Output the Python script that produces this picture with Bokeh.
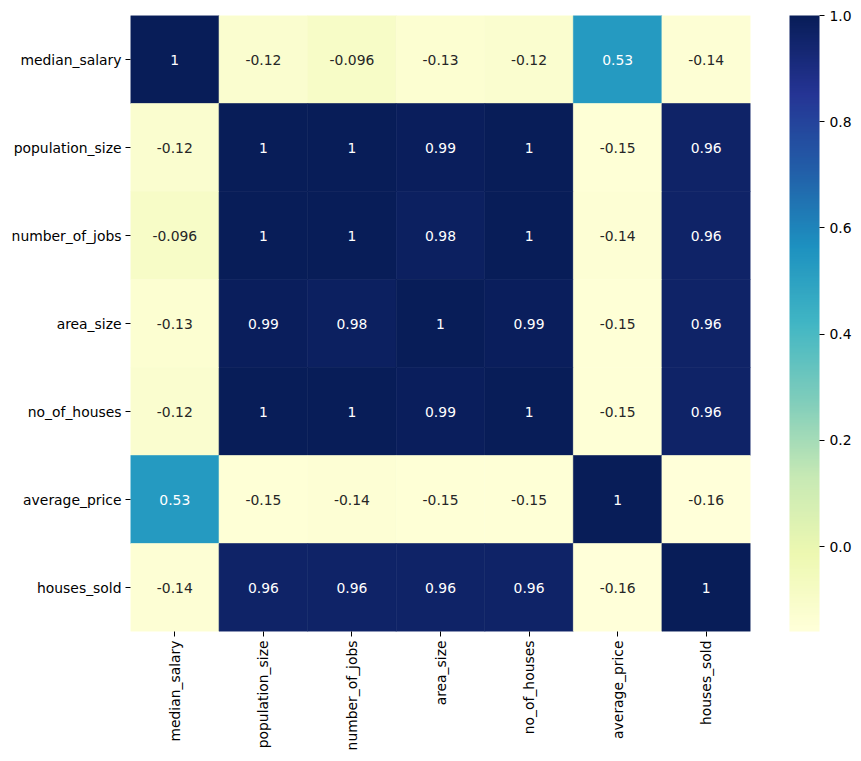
import numpy as np
from bokeh.plotting import figure
from bokeh.models import (ColumnDataSource, LinearColorMapper, ColorBar, FixedTicker,
                          PrintfTickFormatter, FactorRange)
from bokeh.transform import transform
from bokeh.core.properties import value
from bokeh.embed import file_html
from bokeh.resources import INLINE

variables = ["median_salary", "population_size", "number_of_jobs", "area_size",
             "no_of_houses", "average_price", "houses_sold"]

median_salary = [1.0, -0.12, -0.096, -0.13, -0.12, 0.53, -0.14]
population_size = [-0.12, 1.0, 1.0, 0.99, 1.0, -0.15, 0.96]
number_of_jobs = [-0.096, 1.0, 1.0, 0.98, 1.0, -0.14, 0.96]
area_size = [-0.13, 0.99, 0.98, 1.0, 0.99, -0.15, 0.96]
no_of_houses = [-0.12, 1.0, 1.0, 0.99, 1.0, -0.15, 0.96]
average_price = [0.53, -0.15, -0.14, -0.15, -0.15, 1.0, -0.16]
houses_sold = [-0.14, 0.96, 0.96, 0.96, 0.96, -0.16, 1.0]

rows = [median_salary, population_size, number_of_jobs, area_size,
        no_of_houses, average_price, houses_sold]

colorbar_ticks = [0.0, 0.2, 0.4, 0.6, 0.8, 1.0]

# YlGnBu (light -> dark), interpolated to 256 colours like matplotlib
base = ["#ffffd9", "#edf8b1", "#c7e9b4", "#7fcdbb", "#41b6c4",
        "#1d91c0", "#225ea8", "#253494", "#081d58"]
base_rgb = np.array([[int(c[i:i + 2], 16) for i in (1, 3, 5)] for c in base], dtype=float)
pos = np.linspace(0, 1, len(base))
t = np.linspace(0, 1, 256)
pal_rgb = np.stack([np.interp(t, pos, base_rgb[:, k]) for k in range(3)], axis=1)
palette = ["#%02x%02x%02x" % tuple(int(round(v)) for v in c) for c in pal_rgb]

vmin = min(min(r) for r in rows)
vmax = max(max(r) for r in rows)


def lum(rgb):
    rgb = np.asarray(rgb) / 255.0
    rgb = np.where(rgb <= 0.03928, rgb / 12.92, ((rgb + 0.055) / 1.055) ** 2.4)
    return 0.2126 * rgb[0] + 0.7152 * rgb[1] + 0.0722 * rgb[2]


xs, ys, vals, labels, tcolors = [], [], [], [], []
for i, rname in enumerate(variables):
    for j, cname in enumerate(variables):
        v = rows[i][j]
        xs.append(cname)
        ys.append(rname)
        vals.append(v)
        labels.append(format(v, ".2g"))
        idx = int(np.clip((v - vmin) / (vmax - vmin) * 255, 0, 255))
        tcolors.append("#262626" if lum(pal_rgb[idx]) > 0.408 else "#ffffff")

src = ColumnDataSource(dict(x=xs, y=ys, v=vals, label=labels, tc=tcolors))
mapper = LinearColorMapper(palette=palette, low=vmin, high=vmax)

FONT = "DejaVu Sans"
FS = "13.9px"

p = figure(x_range=FactorRange(*variables), y_range=FactorRange(*variables[::-1]),
           frame_width=620, frame_height=616, output_backend="svg",
           toolbar_location=None, min_border_left=130, min_border_top=15,
           min_border_bottom=110, min_border_right=5)
p.x_range.range_padding = 0
p.y_range.range_padding = 0

p.rect(x="x", y="y", width=1, height=1, source=src,
       fill_color=transform("v", mapper), line_color=transform("v", mapper),
       line_width=0.6)
p.text(x="x", y="y", text="label", source=src, text_color="tc",
       text_align="center", text_baseline="middle",
       text_font=value(FONT), text_font_size=FS)

p.outline_line_color = None
p.grid.grid_line_color = None
for ax in (p.xaxis[0], p.yaxis[0]):
    ax.axis_line_color = None
    ax.major_tick_in = 0
    ax.major_tick_out = 5
    ax.major_tick_line_color = "#000000"
    ax.major_label_text_font = FONT
    ax.major_label_text_font_size = FS
    ax.major_label_text_color = "#000000"
    ax.major_label_standoff = 4
p.xaxis.major_label_orientation = np.pi / 2

cb = ColorBar(color_mapper=mapper, width=30, height=616, padding=0,
              margin=0, location=(39, 0),
              ticker=FixedTicker(ticks=colorbar_ticks),
              formatter=PrintfTickFormatter(format="%.1f"),
              major_tick_in=0, major_tick_out=5,
              major_tick_line_color="#000000",
              major_label_text_font=FONT, major_label_text_font_size=FS,
              major_label_text_color="#000000", label_standoff=5,
              border_line_color=None, bar_line_color=None,
              background_fill_color=None)
p.add_layout(cb, "right")

open("out.html", "w").write(file_html(p, INLINE))
